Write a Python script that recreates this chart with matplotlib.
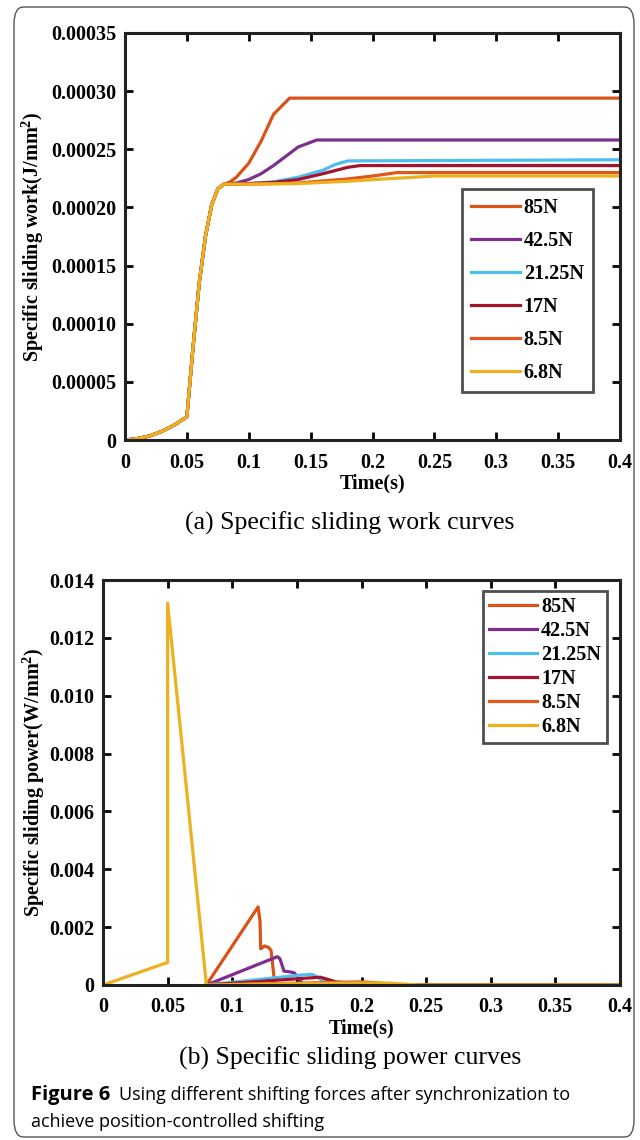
import numpy as np
import matplotlib
matplotlib.use('Agg')
import matplotlib.pyplot as plt
from matplotlib.patches import FancyBboxPatch

plt.rcParams['font.family'] = 'Liberation Serif'
plt.rcParams['font.weight'] = 'bold'
plt.rcParams['axes.labelweight'] = 'bold'
plt.rcParams['mathtext.fontset'] = 'custom'
plt.rcParams['mathtext.rm'] = 'Liberation Serif:bold'

labels = ['85N', '42.5N', '21.25N', '17N', '8.5N', '6.8N']
colors = ['#D95319', '#7E2F8E', '#4DBEEE', '#A2142F', '#E0561B', '#EDB120']

# shared start of all work curves (0 .. 0.08 s)
t_start = [0, 0.01, 0.02, 0.03, 0.04, 0.05, 0.055, 0.06, 0.065, 0.07, 0.075, 0.08]
w_start = [0, 0.0000012, 0.0000035, 0.0000075, 0.000013, 0.00002, 0.00008, 0.000135,
           0.000175, 0.000202, 0.000216, 0.00022]

# work curves after 0.08 s
t_work = {
    '85N':    [0.085, 0.09, 0.1, 0.11, 0.12, 0.133, 0.4],
    '42.5N':  [0.09, 0.1, 0.11, 0.12, 0.13, 0.14, 0.155, 0.4],
    '21.25N': [0.1, 0.12, 0.14, 0.16, 0.17, 0.18, 0.4],
    '17N':    [0.1, 0.12, 0.14, 0.16, 0.18, 0.19, 0.4],
    '8.5N':   [0.1, 0.14, 0.18, 0.2, 0.22, 0.4],
    '6.8N':   [0.1, 0.14, 0.18, 0.21, 0.25, 0.4],
}
w_work = {
    '85N':    [0.000222, 0.000226, 0.000238, 0.000257, 0.00028, 0.000294, 0.000294],
    '42.5N':  [0.000221, 0.000224, 0.000229, 0.000236, 0.000244, 0.000252, 0.000258, 0.000258],
    '21.25N': [0.0002205, 0.000222, 0.000226, 0.000232, 0.000237, 0.000240, 0.000241],
    '17N':    [0.0002205, 0.0002215, 0.000224, 0.000229, 0.0002345, 0.000236, 0.000236],
    '8.5N':   [0.00022, 0.000221, 0.0002245, 0.000227, 0.00023, 0.00023],
    '6.8N':   [0.00022, 0.0002205, 0.0002225, 0.0002245, 0.000227, 0.000227],
}

# power curves
t_pow = {
    '85N':    [0.08, 0.12, 0.1215, 0.122, 0.125, 0.128, 0.13, 0.133, 0.4],
    '42.5N':  [0.08, 0.135, 0.137, 0.14, 0.145, 0.148, 0.152, 0.155, 0.4],
    '21.25N': [0.08, 0.15, 0.16, 0.163, 0.17, 0.18, 0.19, 0.4],
    '17N':    [0.08, 0.165, 0.168, 0.172, 0.18, 0.19, 0.2, 0.4],
    '8.5N':   [0.08, 0.19, 0.2, 0.21, 0.22, 0.23, 0.4],
    '6.8N':   [0, 0.05, 0.05, 0.08, 0.12, 0.16, 0.2, 0.22, 0.245, 0.4],
}
p_pow = {
    '85N':    [0, 0.0027, 0.0022, 0.00125, 0.00135, 0.0013, 0.0012, 0, 0],
    '42.5N':  [0, 0.00098, 0.0009, 0.00048, 0.00045, 0.00042, 0.0002, 0, 0],
    '21.25N': [0, 0.00033, 0.00037, 0.00035, 0.00015, 0.00006, 0, 0],
    '17N':    [0, 0.00026, 0.00027, 0.00022, 0.00011, 0.00007, 0, 0],
    '8.5N':   [0, 0.0001, 0.00011, 0.00008, 0.00004, 0, 0],
    '6.8N':   [0, 0.00078, 0.0132, 0, 0.00003, 0.00005, 0.00007, 0.00007, 0, 0],
}

xticks = [0, 0.05, 0.1, 0.15, 0.2, 0.25, 0.3, 0.35, 0.4]
xticklabels = ['0', '0.05', '0.1', '0.15', '0.2', '0.25', '0.3', '0.35', '0.4']
w_ticks = [0, 0.00005, 0.0001, 0.00015, 0.0002, 0.00025, 0.0003, 0.00035]
w_ticklabels = ['0', '0.00005', '0.00010', '0.00015', '0.00020', '0.00025', '0.00030', '0.00035']
p_ticks = [0, 0.002, 0.004, 0.006, 0.008, 0.010, 0.012, 0.014]
p_ticklabels = ['0', '0.002', '0.004', '0.006', '0.008', '0.010', '0.012', '0.014']

FS = 14.5

fig = plt.figure(figsize=(6.4, 11.4), dpi=100)

# rounded frame around the whole figure
frame = FancyBboxPatch((14 / 640, 3 / 1140), 620 / 640, 1130 / 1140,
                       boxstyle='round,pad=0,rounding_size=0.015',
                       transform=fig.transFigure, facecolor='none',
                       edgecolor='#555555', linewidth=1.0)
fig.patches.append(frame)


def style_axes(ax, yticks, yticklabels):
    ax.set_xlim(0, 0.4)
    ax.set_xticks(xticks)
    ax.set_xticklabels(xticklabels)
    ax.set_yticks(yticks)
    ax.set_yticklabels(yticklabels)
    ax.tick_params(direction='in', top=True, right=True, length=6, width=2,
                   labelsize=FS, pad=6)
    ax.tick_params(axis='x', pad=9)
    for s in ax.spines.values():
        s.set_linewidth(2.2)
        s.set_color('#222222')
    ax.set_xlabel('Time(s)', fontsize=FS, labelpad=1)


# (a) work
ax1 = fig.add_axes([125 / 640, 1 - 440 / 1140, 495 / 640, 407 / 1140])
for lab, c in zip(labels, colors):
    t = t_start + t_work[lab]
    w = w_start + w_work[lab]
    ax1.plot(t, w, color=c, lw=2.3, label=lab)
ax1.set_ylim(0, 0.00035)
style_axes(ax1, w_ticks, w_ticklabels)
ax1.set_ylabel('Specific sliding work(J/mm$^2$)', fontsize=FS, labelpad=4)
leg1 = ax1.legend(loc='upper right', bbox_to_anchor=(0.945, 0.617), fontsize=FS,
                  frameon=True, fancybox=False, edgecolor='#222222',
                  handlelength=2.4, handletextpad=0.2, labelspacing=0.65,
                  borderpad=0.45, borderaxespad=0)
leg1.get_frame().set_linewidth(2)

# (b) power
ax2 = fig.add_axes([103 / 640, 1 - 985 / 1140, 517 / 640, 405 / 1140])
for lab, c in zip(labels, colors):
    ax2.plot(t_pow[lab], p_pow[lab], color=c, lw=2.3, label=lab)
ax2.set_ylim(0, 0.014)
style_axes(ax2, p_ticks, p_ticklabels)
ax2.set_ylabel('Specific sliding power(W/mm$^2$)', fontsize=FS, labelpad=2)
leg2 = ax2.legend(loc='upper right', bbox_to_anchor=(0.975, 0.973), fontsize=FS,
                  frameon=True, fancybox=False, edgecolor='#222222',
                  handlelength=2.4, handletextpad=0.2, labelspacing=0.2,
                  borderpad=0.3, borderaxespad=0)
leg2.get_frame().set_linewidth(2)

# sub captions
fig.text(350 / 640, 1 - 523 / 1140, '(a) Specific sliding work curves',
         ha='center', va='center', fontsize=18.5, fontweight='normal')
fig.text(350 / 640, 1 - 1058 / 1140, '(b) Specific sliding power curves',
         ha='center', va='center', fontsize=18.5, fontweight='normal')

# figure caption
fig.text(31 / 640, 1 - 1095 / 1140, 'Figure 6', ha='left', va='center',
         fontsize=14.5, family='Open Sans', fontweight='bold')
fig.text(119 / 640, 1 - 1095 / 1140,
         'Using different shifting forces after synchronization to',
         ha='left', va='center', fontsize=13, family='Open Sans', fontweight='normal')
fig.text(31 / 640, 1 - 1122 / 1140, 'achieve position-controlled shifting',
         ha='left', va='center', fontsize=13, family='Open Sans', fontweight='normal')

fig.savefig('out.png', dpi=100)
